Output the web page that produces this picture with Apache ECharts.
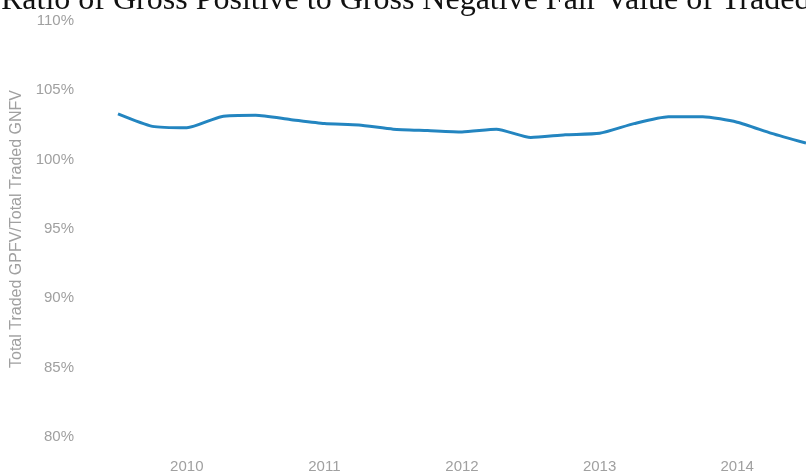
<!DOCTYPE html>
<html>
<head>
<meta charset="utf-8">
<script src="https://cdn.jsdelivr.net/npm/echarts@6/dist/echarts.min.js"></script>
<style>
html,body{margin:0;padding:0;background:#fff;}
#ratio_chart{width:806px;height:475px;}
</style>
</head>
<body>
<div id="ratio_chart"></div>
<script>
// quarters, 2009 Q3 .. 2014 Q3
var quarters=["2009 Q3","2009 Q4","2010 Q1","2010 Q2","2010 Q3","2010 Q4",
    "2011 Q1","2011 Q2","2011 Q3","2011 Q4","2012 Q1","2012 Q2","2012 Q3","2012 Q4",
    "2013 Q1","2013 Q2","2013 Q3","2013 Q4","2014 Q1","2014 Q2","2014 Q3"];
// total traded GPFV / total traded GNFV, in %
var ratioValues=[103.3,102.4,102.3,103.1,103.2,102.9,102.6,102.5,102.2,102.1,102.0,
    102.2,101.6,101.8,101.9,102.6,103.1,103.1,102.7,101.9,101.2];
var yTicks=[80,85,90,95,100,105,110];

var ratio_chart=echarts.init(document.getElementById("ratio_chart"));
var option={
    animation:false,
    title:{
        text:"Ratio of Gross Positive to Gross Negative Fair Value of Traded Derivatives",
        textStyle:{
            color:"#111",
            fontFamily:"Liberation Serif",
            fontSize:32,
            fontWeight:"normal"
        },
        left:-4,
        top:-20
    },
    grid:{
        left:118,
        right:-9,
        top:21,
        bottom:38
    },
    xAxis:{
        type:"category",
        boundaryGap:false,
        data:quarters,
        axisLine:{show:false},
        axisTick:{show:false},
        splitLine:{show:false},
        axisLabel:{
            color:"#a0a0a0",
            fontFamily:"Liberation Sans",
            fontSize:15,
            margin:22,
            interval:function(index,value){
                return value.indexOf("Q1")>0;
            },
            formatter:function(value){
                return value.slice(0,4);
            }
        }
    },
    yAxis:{
        type:"value",
        min:yTicks[0],
        max:yTicks[yTicks.length-1],
        interval:5,
        name:"Total Traded GPFV/Total Traded GNFV",
        nameLocation:"middle",
        nameGap:89,
        nameTextStyle:{
            color:"#a0a0a0",
            fontFamily:"Liberation Sans",
            fontSize:16
        },
        axisLine:{show:false},
        axisTick:{show:false},
        splitLine:{show:false},
        axisLabel:{
            color:"#a0a0a0",
            fontFamily:"Liberation Sans",
            fontSize:15,
            margin:44,
            formatter:"{value}%"
        }
    },
    series:[{
        name:"Ratio",
        type:"line",
        data:ratioValues,
        smooth:0.2,
        symbol:"none",
        lineStyle:{
            color:"#2385c0",
            width:3
        }
    }]
};
ratio_chart.setOption(option);
</script>
</body>
</html>
